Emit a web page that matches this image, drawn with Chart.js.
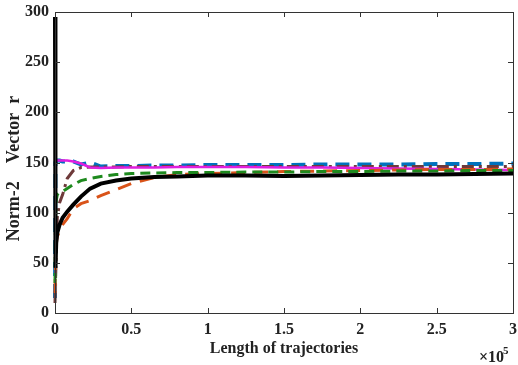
<!DOCTYPE html>
<html>
<head>
<meta charset="utf-8">
<script src="https://cdn.jsdelivr.net/npm/chart.js@4/dist/chart.umd.min.js"></script>
<style>
html,body{margin:0;padding:0;background:#fff;}
#wrap{width:518px;height:365px;position:relative;}
</style>
</head>
<body>
<div id="wrap"><canvas id="c" width="518" height="365"></canvas></div>
<script>
const xs = [0, 300, 800, 1500, 3000, 5000, 8000, 12000, 17000, 23000, 30000, 40000, 50000, 65000, 80000, 100000, 125000, 150000, 175000, 200000, 225000, 250000, 275000, 300000];
const blackVals   = [295, 45, 70, 80, 88, 95, 101, 108, 116, 124, 129, 132, 134, 135.5, 136, 137, 137, 136.5, 137, 137.5, 138, 138, 138.5, 139];
const orangeVals  = [20, 50, 70, 76, 82, 88, 94, 104, 109, 112, 117, 123, 129, 135, 138, 139, 140, 141, 141.5, 142, 142.5, 143, 143, 143.5];
const greenVals   = [30, 90, 112, 118, 120, 121, 124, 128, 132, 134, 136, 138, 139, 139.5, 140, 140, 140.5, 140.5, 141, 141, 141.5, 141.5, 142, 142];
const maroonVals  = [10, 30, 60, 95, 110, 118, 134, 142, 145, 145.5, 145.5, 145.5, 146, 146, 146, 146, 146, 146, 146, 146, 146, 146, 146, 146];
const blueVals    = [15, 150, 151, 152, 152, 151, 151, 151, 148, 150, 146, 146.5, 146.5, 147, 147, 147.5, 147.5, 147.5, 148, 148, 148, 148.5, 148.5, 149];
const magentaVals = [120, 152, 152, 152, 152, 152, 152, 151, 149, 145, 144.5, 145, 145, 145, 145.5, 145.5, 145.5, 145, 145, 144.5, 144, 143.5, 143, 142.5];
const xTicks = [0, 50000, 100000, 150000, 200000, 250000, 300000];
const yTicks = [0, 50, 100, 150, 200, 250, 300];
const yTitle = 'Norm-2    Vector  r';

function pts(vals){ return xs.map((x,i)=>({x:x, y:vals[i]})); }

const serif = "'Liberation Serif','Times New Roman',serif";

const boxPlugin = {
  id:'box',
  afterDraw(chart){
    const {ctx, chartArea:a, scales} = chart;
    ctx.save();
    ctx.strokeStyle = '#333';
    ctx.lineWidth = 1;
    ctx.strokeRect(Math.round(a.left)+0.5, Math.round(a.top)+0.5, Math.round(a.right-a.left), Math.round(a.bottom-a.top));
    const L = 5;
    ctx.beginPath();
    xTicks.forEach(v=>{
      const px = Math.round(scales.x.getPixelForValue(v))+0.5;
      ctx.moveTo(px, a.bottom); ctx.lineTo(px, a.bottom-L);
      ctx.moveTo(px, a.top); ctx.lineTo(px, a.top+L);
    });
    yTicks.forEach(v=>{
      const py = Math.round(scales.y.getPixelForValue(v))+0.5;
      ctx.moveTo(a.left, py); ctx.lineTo(a.left+L, py);
      ctx.moveTo(a.right, py); ctx.lineTo(a.right-L, py);
    });
    ctx.stroke();
    ctx.fillStyle = '#222';
    ctx.font = "bold 16px " + serif;
    ctx.textBaseline = 'alphabetic';
    ctx.textAlign = 'left';
    ctx.fillText('\u00d710', 479, 362);
    ctx.font = "bold 11px " + serif;
    ctx.fillText('5', 503, 354);
    // y-axis title
    ctx.save();
    ctx.translate(14, 168.5);
    ctx.rotate(-Math.PI/2);
    ctx.font = "bold 18px " + serif;
    ctx.textAlign = 'center';
    ctx.textBaseline = 'middle';
    ctx.fillText(yTitle, 0, 0);
    ctx.restore();
    ctx.restore();
  }
};

const C = 6;
new Chart(document.getElementById('c'), {
  type:'line',
  data:{
    datasets:[
      {label:'black', data:pts(blackVals), borderColor:'#000000', borderWidth:4, clip:C},
      {label:'green', data:pts(greenVals), borderColor:'#1E8A1E', borderWidth:3, borderDash:[10,6], clip:C},
      {label:'orange', data:pts(orangeVals), borderColor:'#D95319', borderWidth:3, borderDash:[14,9], clip:C},
      {label:'magenta', data:pts(magentaVals), borderColor:'#E01EE0', borderWidth:2.5, clip:C},
      {label:'maroon', data:pts(maroonVals), borderColor:'#6E3A3A', borderWidth:3, borderDash:[12,5,3,5], clip:C},
      {label:'blue', data:pts(blueVals), borderColor:'#0072BD', borderWidth:4, borderDash:[14,8], clip:C}
    ]
  },
  options:{
    responsive:false,
    animation:false,
    layout:{padding:{top:12, right:5, left:0, bottom:0}},
    elements:{point:{radius:0}, line:{tension:0}},
    plugins:{legend:{display:false}, tooltip:{enabled:false}},
    scales:{
      x:{
        type:'linear', min:0, max:300000,
        afterFit(s){ s.height = 52; },
        afterBuildTicks(s){ s.ticks = xTicks.map(v=>({value:v})); },
        grid:{display:false, drawTicks:true, tickLength:7},
        border:{display:false},
        ticks:{color:'#222', padding:0, maxRotation:0, font:{family:serif, size:16, weight:'bold'},
          callback:(v)=> String(v/100000)},
        title:{display:true, text:'Length of trajectories', color:'#222', padding:{top:0,bottom:7},
          font:{family:serif, size:16, weight:'bold'}}
      },
      y:{
        min:0, max:300,
        afterFit(s){ s.width = 55; },
        afterBuildTicks(s){ s.ticks = yTicks.map(v=>({value:v})); },
        grid:{display:false, drawTicks:true, tickLength:6},
        border:{display:false},
        ticks:{color:'#222', padding:0, font:{family:serif, size:16, weight:'bold'}},
        title:{display:false}
      }
    }
  },
  plugins:[boxPlugin]
});
</script>
</body>
</html>
